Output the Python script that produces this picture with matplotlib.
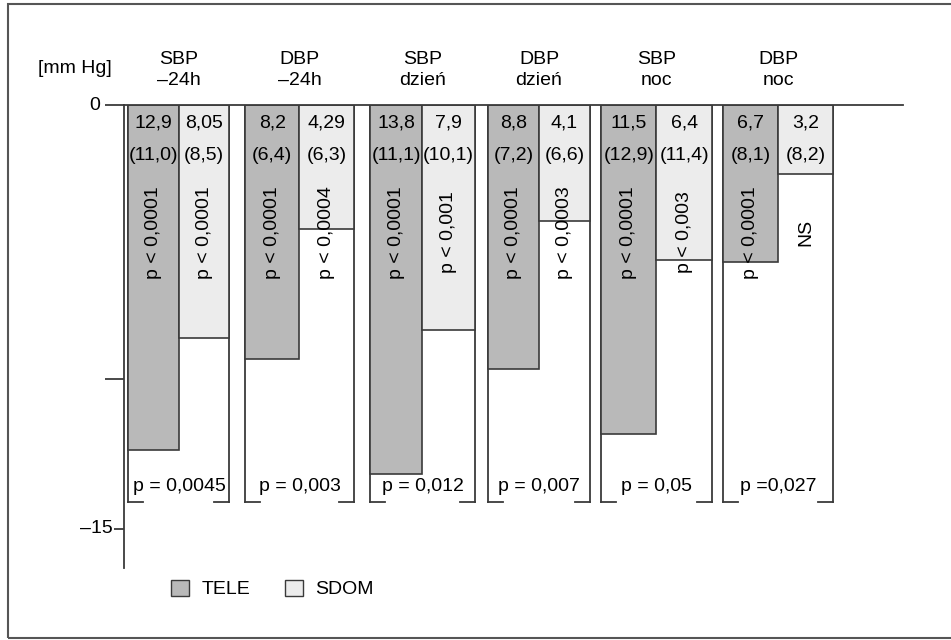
import numpy as np
import matplotlib
matplotlib.use("Agg")
import matplotlib.pyplot as plt
from matplotlib import font_manager
from matplotlib.patches import Patch, Rectangle

# --- data ---
groups = ["SBP\n\u201324h", "DBP\n\u201324h", "SBP\ndzie\u0144", "DBP\ndzie\u0144", "SBP\nnoc", "DBP\nnoc"]
tele_drop = [12.2, 9.0, 13.05, 9.35, 11.65, 5.55]   # bar lengths [mm Hg]
sdom_drop = [8.25, 4.4, 7.95, 4.1, 5.5, 2.45]
tele_mean = ["12,9", "8,2", "13,8", "8,8", "11,5", "6,7"]
tele_sd = ["(11,0)", "(6,4)", "(11,1)", "(7,2)", "(12,9)", "(8,1)"]
sdom_mean = ["8,05", "4,29", "7,9", "4,1", "6,4", "3,2"]
sdom_sd = ["(8,5)", "(6,3)", "(10,1)", "(6,6)", "(11,4)", "(8,2)"]
tele_p = ["p < 0,0001"] * 6
sdom_p = ["p < 0,0001", "p < 0,0004", "p < 0,001", "p < 0,0003", "p < 0,003", "NS"]
diff_p = ["p = 0,0045", "p = 0,003", "p = 0,012", "p = 0,007", "p = 0,05", "p =0,027"]
yticks = [0, -9.7, -15]
ytick_labels = ["0", "", "\u201315"]

# layout (x in pixels of the original drawing)
centers = [179, 299.5, 422.5, 539, 656.5, 778]
half_w = [50.5, 54.5, 52.5, 51, 55.5, 55]

names = {f.name for f in font_manager.fontManager.ttflist}
fam = "Liberation Sans Narrow" if "Liberation Sans Narrow" in names else "Liberation Sans"
plt.rcParams["font.family"] = [fam, "DejaVu Sans"]
FS = 14

TELE_C = "#b9b9b9"
SDOM_C = "#ececec"
EDGE = "#3a3a3a"

W, H = 951, 640
fig = plt.figure(figsize=(W / 100, H / 100), dpi=100)
# axes: left 124.5px, right 903px, top (y=0) 105px, bottom 568px
ax = fig.add_axes([124.5 / W, 1 - 568 / H, (903 - 124.5) / W, (568 - 105) / H])
ax.set_ylim(-16.38, 0)
ax.set_xlim(124.5, 903)

x = np.array(centers)
hw = np.array(half_w)
box_bot = -14.04
stub = 15

for c, h in zip(x, hw):
    # white group box with broken bottom edge
    ax.plot([c - h, c - h], [0, box_bot], color=EDGE, lw=1.3, zorder=1)
    ax.plot([c + h, c + h], [0, box_bot], color=EDGE, lw=1.3, zorder=1)
    ax.plot([c - h, c - h + stub], [box_bot, box_bot], color=EDGE, lw=1.3)
    ax.plot([c + h - stub, c + h], [box_bot, box_bot], color=EDGE, lw=1.3)

ax.bar(x - hw / 2, [-v for v in tele_drop], width=hw, bottom=0, color=TELE_C,
       edgecolor=EDGE, linewidth=1.2, zorder=2)
ax.bar(x + hw / 2, [-v for v in sdom_drop], width=hw, bottom=0, color=SDOM_C,
       edgecolor=EDGE, linewidth=1.2, zorder=2)

for i in range(len(groups)):
    c, h = x[i], hw[i]
    for dx, m, s, p in [(-h / 2, tele_mean[i], tele_sd[i], tele_p[i]),
                        (h / 2, sdom_mean[i], sdom_sd[i], sdom_p[i])]:
        ax.text(c + dx, -0.65, m, ha="center", va="center", fontsize=FS, zorder=3)
        ax.text(c + dx, -1.8, s, ha="center", va="center", fontsize=FS, zorder=3)
        ax.text(c + dx, -4.5, p, ha="center", va="center", rotation=90,
                fontsize=FS, zorder=3)
    ax.text(c, -13.5, diff_p[i], ha="center", va="center", fontsize=FS, zorder=3)
    ax.text(c, 1.24, groups[i], ha="center", va="center", fontsize=FS,
            linespacing=1.25, clip_on=False)

# axes styling
for side in ["right", "bottom"]:
    ax.spines[side].set_visible(False)
ax.spines["top"].set_color(EDGE)
ax.spines["left"].set_color(EDGE)
ax.spines["top"].set_linewidth(1.3)
ax.spines["left"].set_linewidth(1.3)
ax.spines["top"].set_zorder(4)
ax.set_xticks([])
ax.set_yticks(yticks, [""] * len(yticks))
ax.tick_params(axis="y", length=14, width=1.3, color=EDGE)
ax.yaxis.get_major_ticks()[2].tick1line.set_markersize(7)
for v, lab in zip(yticks, ytick_labels):
    if lab:
        ax.text(100 if v == 0 else 113, v, lab, ha="right", va="center",
                fontsize=FS, clip_on=False)
ax.text(75, 1.3, "[mm Hg]", ha="center", va="center", fontsize=FS, clip_on=False)

handles = [Patch(facecolor=TELE_C, edgecolor=EDGE, label="TELE"),
           Patch(facecolor=SDOM_C, edgecolor=EDGE, label="SDOM")]
fig.legend(handles=handles, loc="center left", bbox_to_anchor=(171 / W, 1 - 589 / H),
           ncol=2, frameon=False, fontsize=FS, handlelength=0.93, handleheight=0.93,
           handletextpad=0.67, columnspacing=1.73, borderpad=0, borderaxespad=0)

# outer frame
fig.patches.append(Rectangle((8 / W, 2 / H), 1.2, 1 - 6 / H, transform=fig.transFigure,
                             fill=False, edgecolor="#555555", lw=1.5))

fig.savefig("out.png", dpi=100)
